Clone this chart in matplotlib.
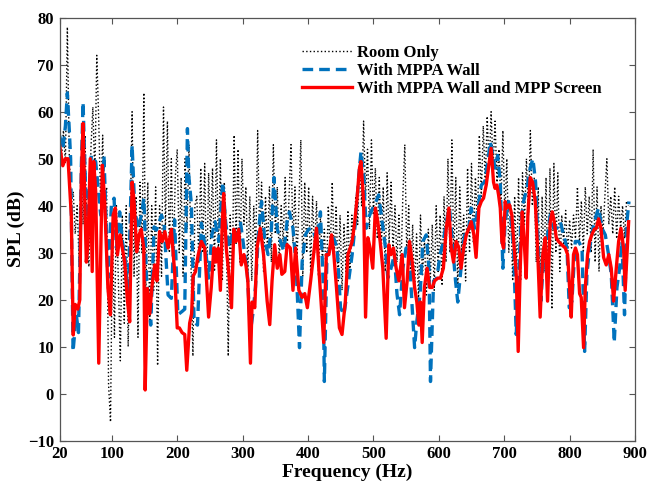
import numpy as np
import matplotlib
matplotlib.use("Agg")
import matplotlib.pyplot as plt

# ---- Room only: sampled every 3 Hz (20 ... 890 Hz)
room_f = np.arange(20, 891, 3)
room_db = [
    53, 50, 56, 49, 78, 50, 40, 43, 34, 40,   # 20-47
    28, 50, 36, 55, 32, 27, 52, 61, 46, 72,   # 50-77
    58, 40, 55, 38, 44, 2, -6, 35, 12, 40,    # 80-107
    24, 7, 38, 15, 40, 10, 35, 60, 25, 42,    # 110-137
    12, 45, 30, 64, 20, 45, 15, 40, 22, 44,   # 140-167
    6, 40, 25, 61, 35, 58, 30, 50, 28, 46,    # 170-197
    52, 30, 46, 25, 50, 35, 53, 28, 8, 40,    # 200-227
    42, 28, 48, 30, 49, 22, 47, 33, 48, 26,   # 230-257
    54, 30, 50, 24, 45, 35, 8, 38, 22, 55,    # 260-287
    32, 52, 28, 50, 36, 44, 26, 42, 24, 40,   # 290-317
    30, 56, 33, 45, 26, 42, 30, 44, 28, 53,   # 320-347
    34, 44, 28, 40, 32, 46, 30, 42, 53, 32,   # 350-377
    44, 28, 40, 54, 25, 45, 30, 44, 26, 42,   # 380-407
    30, 41, 25, 38, 28, 35, 24, 40, 30, 45,   # 410-437
    28, 40, 24, 38, 22, 36, 26, 39, 25, 38,   # 440-467
    32, 42, 36, 50, 40, 58, 42, 52, 35, 54,   # 470-497
    38, 48, 33, 46, 30, 44, 26, 47, 32, 45,   # 500-527
    30, 40, 28, 38, 26, 42, 53, 30, 40, 24,   # 530-557
    36, 22, 34, 20, 38, 25, 33, 21, 35, 24,   # 560-587
    36, 22, 40, 26, 38, 23, 42, 28, 50, 30,   # 590-617
    54, 28, 46, 22, 44, 30, 38, 24, 48, 30,   # 620-647
    49, 32, 46, 36, 55, 42, 57, 45, 59, 48,   # 650-677
    60, 48, 58, 45, 52, 40, 56, 38, 50, 30,   # 680-707
    40, 24, 42, 26, 46, 24, 47, 36, 50, 38,   # 710-737
    56, 40, 46, 28, 44, 22, 42, 26, 46, 20,   # 740-767
    48, 18, 49, 30, 47, 26, 38, 32, 39, 30,   # 770-797
    37, 31, 38, 33, 44, 32, 41, 30, 44, 34,   # 800-827
    42, 30, 52, 28, 44, 26, 40, 34, 42, 50,   # 830-857
    36, 42, 34, 44, 33, 42, 35, 40, 33, 41,   # 860-887
    40,                                       # 890
]

# ---- With MPPA wall
wall_f = [
    20, 25, 29, 32, 35, 37, 40.7, 45.7, 49, 51, 53.4, 56, 58.5, 61.6, 66, 68.7,
    71, 75.3, 79, 83, 88, 94, 99.3, 103.4, 107, 112, 116, 120, 125, 131, 135,
    140, 145, 149, 153, 155.4, 159.5, 164.6, 168, 176, 180, 186, 191, 196, 201,
    207.4, 211.5, 215.6, 217.6, 221.7, 225.8, 231, 237, 243, 248, 253, 258,
    263.5, 269.6, 274, 279, 286.5, 291.5, 296.6, 302, 307, 312, 315.5, 319.6,
    324.7, 329, 334, 339, 344, 348, 353, 358, 363, 368, 371.6, 377, 382, 387,
    391, 396, 401, 406, 414, 419, 423, 425, 429, 434, 439.5, 444.6, 449.7, 455,
    460, 464, 467.5, 472.6, 477.7, 481, 485, 489, 494, 499, 504, 508, 513.4,
    518.5, 522, 527, 532, 536, 540, 545, 550, 555, 559.3, 563, 566.4, 571.5,
    575.6, 580.7, 585, 587.3, 592, 597, 602, 607, 611.3, 616.4, 620.5, 625.6,
    629, 634, 639.4, 644.5, 649.6, 654.7, 660, 665, 670, 675, 678.6, 682.7, 686,
    690, 694, 698, 701.5, 706.7, 710, 714.3, 718.4, 722, 725.5, 729.6, 734.7,
    739.8, 743.9, 748, 752.5, 756, 760, 765, 770.4, 775.5, 780.6, 785.7, 790.8,
    796, 799.5, 803.6, 808.7, 813.8, 819, 823, 826.5, 830.6, 835.7, 840.8,
    844.4, 849.5, 854.6, 859.6, 863.7, 868.3, 872.4, 876.5, 880, 884, 887.7,
    890.8,
]
wall_db = [
    55, 52, 57, 64, 56, 50, 9, 16.8, 13, 27, 48.6, 62, 50, 35.5, 45, 50.7,
    50, 49.4, 43.8, 38, 50.7, 24.6, 40, 41.6, 31, 38.7, 32.4, 29.5, 20.3, 52.9, 39.5,
    35, 37.9, 41.6, 24.9, 20.3, 14.6, 35.5, 34.8, 38, 36, 21, 20.3, 37, 16.8,
    17.5, 18, 56.4, 46.5, 40.2, 15.3, 14.6, 36.3, 31, 24.6, 33.8, 36.6,
    32.4, 45, 36.6, 31, 35.2, 32.4, 36.6, 31, 26, 13.3, 16.8, 22.6,
    35.2, 40.9, 32.4, 29.6, 35, 46, 35, 32.4, 30.3, 36.6, 38.7, 35.2, 26.7, 9.8,
    28, 33.8, 35, 35.2, 32.4, 38.7, 24, 2.6, 29.6, 31, 33, 31, 18.3, 16.8,
    22, 26, 29.6, 36.6, 46.5, 51.5, 46.5, 35.2, 37.9, 39.5, 40.9, 42.3, 36.6,
    31, 24.6, 26.7, 29.6, 21.3, 16.8, 26.7, 31, 29.6, 18.3, 9.8, 15.4, 21.3,
    32.4, 33.8, 26.7, 2.6, 24, 24.6, 29.6, 32.4, 36.6, 39.5, 32.4, 24,
    19.5, 26.7, 33.8, 33.8, 39.5, 35.2, 39.5, 44.4, 45, 49.4, 53.6, 50.7, 48,
    50.7, 45, 26.7, 36.6, 40.9, 38, 31, 12.6, 24, 36.6, 40.9, 43.7,
    48, 50, 45, 29.6, 19.7, 28, 32.4, 38, 35.2, 35.2, 36.6, 33.8,
    31, 18.3, 19.7, 32.4, 32.4, 31, 9, 25.4, 31, 35.2, 38,
    39.5, 35.2, 33.8, 29.6, 25.4, 10.9, 22.6, 26.7, 32.4, 16.8, 36.6,
    40.9,
]

# ---- With MPPA wall and MPP screen
screen_f = [
    20, 25, 29, 33, 38, 41, 44, 48, 51, 53.4, 56, 58.5, 61, 63.6, 67, 70, 72.3,
    75.3, 80, 85.5, 89, 94, 97.8, 102, 105.4, 108.5, 112.6, 116, 119.7, 124,
    127.3, 131, 134, 138, 141.6, 145, 148.8, 151, 154.4, 158, 161.5, 165.6, 169,
    173, 177.3, 181, 186, 191, 196, 200, 203.3, 207.4, 211.5, 214.6, 219, 222,
    224.3, 228, 232, 237, 242, 248, 252, 256, 259, 262.5, 266, 268.6, 271, 275,
    279, 283, 286.5, 290, 294, 298, 302, 305, 308, 312, 314.5, 318.6, 322, 327,
    332, 337.5, 341.5, 345, 349, 353, 357, 360, 364.5, 368, 373, 377, 381, 386,
    391, 395, 399, 404, 408, 413, 416.5, 420, 424, 428, 432, 436, 439.5, 443.5,
    448, 452, 457, 461, 464.4, 467.5, 471, 474.6, 478.7, 481, 485, 488, 491.5,
    495, 499, 503, 506.7, 510.3, 514.4, 519.5, 523.6, 527, 530.7, 534.8, 539,
    544, 547.5, 551.6, 555.2, 559.3, 563, 566.4, 569.5, 572, 574.6, 578, 582,
    586, 590, 593.5, 598.6, 602.6, 607, 611.3, 615.4, 619, 622.5, 626.6, 630.7,
    634, 638, 642, 646, 649.6, 653.6, 657, 661.3, 665, 668.4, 672.5, 676.6, 680,
    683.7, 686, 688.8, 691.4, 694, 696.5, 699, 701.5, 704, 708, 711.7, 715.3,
    718.4, 721.4, 724.5, 727.6, 730.6, 733.7, 736.2, 739.8, 743.4, 747.5, 751,
    755, 759, 762.8, 766.3, 770.4, 773.5, 776.5, 779.6, 783, 788, 793.4, 797,
    800, 802.5, 806, 809, 812, 815.3, 817.8, 821.4, 824, 827.5, 830.6, 834,
    837.7, 840.8, 844.4, 848, 852, 856, 860, 863.7, 867.3, 871.4, 875, 878.5,
    882.6, 885, 887.7, 890.3,
]
screen_db = [
    53, 48.5, 50, 50, 38, 12.5, 19, 18, 20, 46.5, 57.5, 42, 28, 32, 50, 26, 49.4,
    43, 6.5, 48.6, 41, 22.5, 16.8, 38, 39.5, 29.5, 33.8, 31, 28, 19.6,
    15.3, 45, 41, 30.2, 33.8, 35, 31, 0.8, 22.4, 17, 23, 27.4, 24,
    34.5, 32.4, 34.5, 31, 35, 26, 14, 14, 13, 12.6, 5, 15, 17,
    25, 26, 29.5, 32.4, 31, 16.3, 22.6, 31, 28, 31, 22, 35, 42.6, 31,
    25.4, 18.3, 35, 32.4, 35, 27.4, 29.6, 27.4, 24, 6.5, 19.5, 18.3, 31, 35.2,
    29.6, 19.7, 14.7, 24, 31.7, 26.7, 29.6, 25.4, 26, 31.7, 31, 22, 31, 22,
    20.5, 21.3, 18.3, 24, 29, 35.2, 26.7, 19.5, 10.9, 29.6, 29.6, 33.8, 29.6, 22.6,
    14, 12.6, 19.5, 29.6, 31, 32.4, 36, 40.9, 48, 49.4, 40.9, 16.3, 33.2,
    31, 26.7, 39.5, 36.6, 32.4, 26.7, 11.8, 31.7, 29.6, 31, 26.7, 24,
    29.6, 18.3, 24, 32.4, 28, 22.6, 19.5, 14.6, 19.5, 10.9, 22.6, 26.7,
    22.6, 22.6, 24, 24.6, 24.6, 26.7, 35, 39.5, 31, 28, 32.4, 31,
    26.7, 31, 33.8, 35.2, 36.6, 33.8, 29, 39.5, 40.9, 41.6, 44.4, 48.6, 52.2,
    45, 43.7, 44.4, 42.3, 39.5, 32.4, 31, 40.9, 39.5, 40.2, 38, 31,
    25.4, 9, 26.7, 38.7, 32.4, 24.6, 38, 46, 45, 40.9, 31,
    16.3, 29.6, 33.2, 19.7, 36.6, 38.7, 36.6, 33.2, 32.4, 31.7, 31, 29.6,
    22.6, 16.3, 29.6, 31, 29.6, 21.3, 20.5, 9.8, 22.6, 29.6, 32.4, 33.8,
    35, 35.2, 37.2, 35.2, 29, 27.4, 29.6, 26.7, 19.7, 26.7, 32.4, 35.2,
    31, 22, 29.6, 36.6,
]

x_ticks = [20, 100, 200, 300, 400, 500, 600, 700, 800, 900]
y_ticks = list(range(-10, 81, 10))

plt.rcParams["font.family"] = ["Liberation Serif", "DejaVu Serif"]
plt.rcParams["font.weight"] = "bold"

fig = plt.figure(figsize=(6.49, 4.88), dpi=100)
ax = fig.add_axes([0.0917, 0.0969, 0.8867, 0.8668])

ax.plot(room_f, room_db, color="black", linestyle=":", linewidth=1.0,
        label="Room Only")
ax.plot(wall_f, wall_db, color="#0072BD", linestyle=(0, (3.2, 1.8)),
        linewidth=2.4, label="With MPPA Wall")
ax.plot(screen_f, screen_db, color="red", linestyle="-", linewidth=2.4,
        label="With MPPA Wall and MPP Screen")

ax.set_xlim(20, 900)
ax.set_ylim(-10, 80)
ax.set_xticks(x_ticks)
ax.set_yticks(y_ticks)
ax.tick_params(direction="in", top=True, right=True, length=4, width=0.8,
               color="#555555", labelsize=12, pad=4)
for lbl in ax.get_xticklabels() + ax.get_yticklabels():
    lbl.set_fontweight("bold")
for sp in ax.spines.values():
    sp.set_color("#555555")
    sp.set_linewidth(0.9)

ax.set_xlabel("Frequency (Hz)", fontsize=14, fontweight="bold", labelpad=1)
ax.set_ylabel("SPL (dB)", fontsize=14, fontweight="bold", labelpad=2)

leg = ax.legend(loc="upper left", bbox_to_anchor=(0.41, 0.952), frameon=False,
                fontsize=12, handlelength=3.0, handletextpad=0.3,
                labelspacing=0.12, borderaxespad=0.0)
for t in leg.get_texts():
    t.set_fontweight("bold")

fig.savefig("out.png", dpi=100)
